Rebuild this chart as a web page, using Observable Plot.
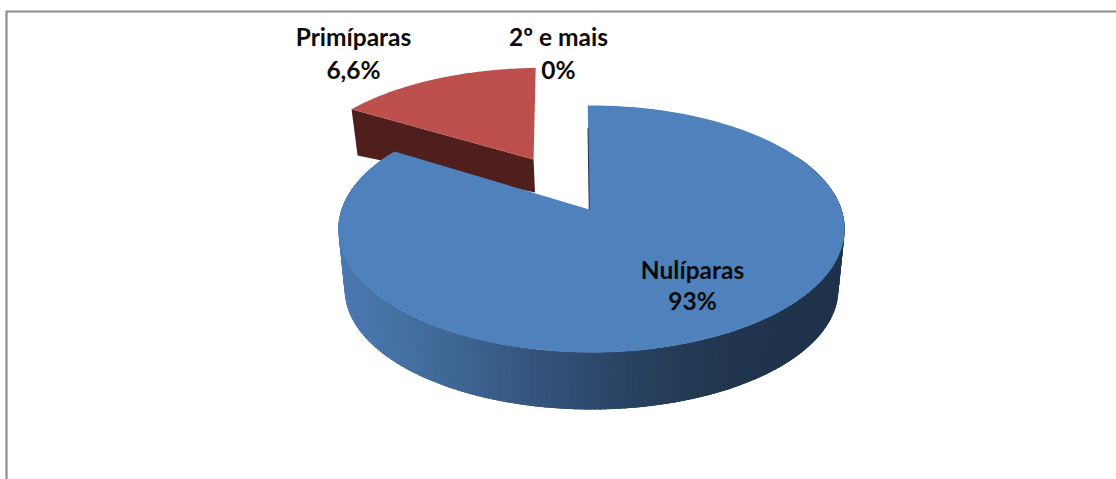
<!DOCTYPE html>
<html>
<head>
<meta charset="utf-8">
<script src="https://cdn.jsdelivr.net/npm/d3@7"></script>
<script src="https://cdn.jsdelivr.net/npm/@observablehq/plot@0.6"></script>
<style>
html,body{margin:0;padding:0;background:#fff;overflow:hidden}
svg{display:block}
</style>
</head>
<body>
<div id="chart"></div>
<script>
// Data
const categories = ["Nulíparas", "Primíparas", "2º e mais"];
const valueLabels = ["93%", "6,6%", "0%"];
// the drawn wedges do not follow the printed percentages: sweeps are as pictured
const drawnSweepDegrees = [302.5, 57.5, 0];
const topColors = ["#4f81bd", "#bd4f4c"];
const redSideColor = "#4f1f1d";
const blueSideStops = ["#4a78b0", "#44709f", "#3b5f8c", "#324f76", "#2a4263", "#22384f", "#1f334c", "#1f334c"];

// Perspective view of the pie plane
const k = 0.158, A = 250, cx = 591;
const topDisk = {cy: 209, B: 120.4, s: 1};
const lowerDisk = {cy: 270, B: 117, s: 0.975};
const redLower = {cy: 228.7, B: 88.5, s: 0.975};
const project = (u, v, d) => {
  const w = 1 + k * v;
  return {x: cx + d.s * A * u / w, y: d.cy - d.B * v / w};
};
const rad = (deg) => deg * Math.PI / 180;
const rim = (cu, cv, deg, d) => project(cu + Math.sin(rad(deg)), cv + Math.cos(rad(deg)), d);

const blueStart = -1;
const blueEnd = blueStart + drawnSweepDegrees[0];
const redEnd = -1.5;
const redStart = redEnd - drawnSweepDegrees[1];
const blueApex = [-0.009, 0];
const redApex = [-0.248, 0.444];

const polygons = [];
const add = (id, color, pts) => pts.forEach((p) => polygons.push({id, color, x: p.x, y: p.y}));
const arc = (cu, cv, a0, a1, d) => d3.range(0, 121).map((i) => rim(cu, cv, a0 + (a1 - a0) * i / 120, d));

// red wedge, wall first
add("redSide", redSideColor, [
  project(redApex[0], redApex[1], topDisk),
  rim(redApex[0], redApex[1], redStart, topDisk),
  rim(redApex[0], redApex[1], redStart, redLower),
  project(redApex[0], redApex[1], redLower)
]);
add("redTop", topColors[1], [project(redApex[0], redApex[1], topDisk), ...arc(redApex[0], redApex[1], redStart, redEnd, topDisk)]);

// blue rim wall: strips are painted back to front, each overlapping the next,
// so no background shows through between them
const shade = d3.interpolateRgbBasis(blueSideStops);
const stripStep = 1;
const strips = d3.range(62, 298, stripStep);
strips.forEach((deg, i) => {
  const a = rim(0, 0, deg, topDisk), b = rim(0, 0, deg + stripStep * 2.5, topDisk);
  const c = rim(0, 0, deg + stripStep * 2.5, lowerDisk), e = rim(0, 0, deg, lowerDisk);
  const t = Math.max(0, Math.min(1, (845 - e.x) / 500));
  add("wall" + i, d3.color(shade(1 - t)).formatHex(), [a, b, c, e]);
});
add("blueTop", topColors[0], [project(blueApex[0], blueApex[1], topDisk), ...arc(0, 0, blueStart, blueEnd, topDisk)]);

const seamLine = [project(blueApex[0], blueApex[1], topDisk), rim(0, 0, blueStart, topDisk)]
  .map((p, i) => i === 0 ? p : {x: p.x + 0.3, y: 128});

const labels = [
  {x: 692, y1: 271, y2: 302, i: 0},
  {x: 353, y1: 38, y2: 71, i: 1},
  {x: 558, y1: 38, y2: 71, i: 2}
];
const font = {fontFamily: "Lato", fontWeight: 700, fontSize: 24.5, fill: "#0c0c0c", textAnchor: "middle", lineAnchor: "middle"};

const plot = Plot.plot({
  width: 1116,
  height: 479,
  margin: 0,
  x: {domain: [0, 1116], range: [0, 1116], axis: null},
  y: {domain: [0, 479], range: [0, 479], axis: null},
  color: {type: "identity"},
  style: {background: "#fff"},
  marks: [
    Plot.line([{x: 6, y: 479}, {x: 6, y: 11}, {x: 1116, y: 11}], {x: "x", y: "y", stroke: "#8c8c8c", strokeWidth: 2.2}),
    Plot.line(polygons, {x: "x", y: "y", z: "id", fill: "color", stroke: "none", curve: "linear"}),
    Plot.line(seamLine, {x: "x", y: "y", stroke: "#1f334c", strokeWidth: 1}),
    Plot.text(labels, {x: "x", y: "y1", text: (d) => categories[d.i], ...font}),
    Plot.text(labels, {x: "x", y: "y2", text: (d) => valueLabels[d.i], ...font})
  ]
});
document.getElementById("chart").append(plot);
</script>
</body>
</html>
